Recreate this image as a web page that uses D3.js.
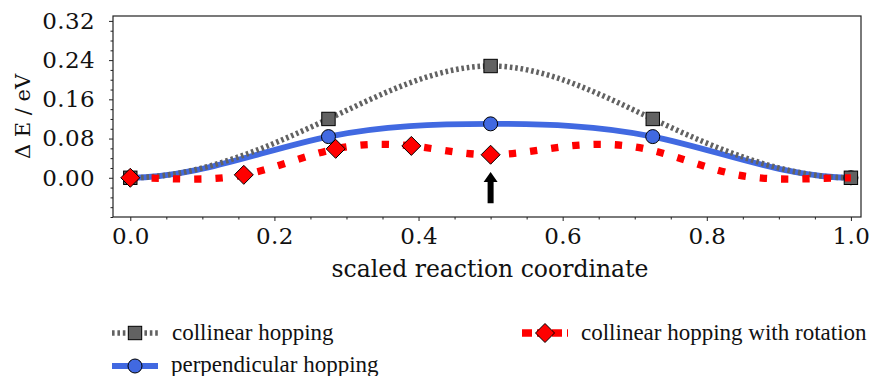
<!DOCTYPE html>
<html>
<head>
<meta charset="utf-8">
<script src="https://cdn.jsdelivr.net/npm/d3@7"></script>
<style>
  html, body { margin: 0; padding: 0; background: #fff; }
  svg { display: block; }
</style>
</head>
<body>
<svg id="chart" width="871" height="376"></svg>
<script>
// Energy profiles along the hopping path (eV)
const collinearX = [0.0, 0.275, 0.5, 0.725, 1.0];
const collinearE = [0.0, 0.120, 0.228, 0.120, 0.0];

const perpendicularX = [0.0, 0.275, 0.5, 0.725, 1.0];
const perpendicularE = [0.0, 0.084, 0.110, 0.084, 0.0];

const rotationX = [0.0, 0.1575, 0.285, 0.39, 0.5, 0.61, 0.715, 0.8425, 1.0];
const rotationE = [0.0, 0.006, 0.059, 0.065, 0.047, 0.065, 0.059, 0.006, 0.0];
const rotationMarkerCount = 5;   // computed images shown with markers

const xTickValues = [0.0, 0.2, 0.4, 0.6, 0.8, 1.0];
const yTickValues = [0.00, 0.08, 0.16, 0.24, 0.32];

// arrow marking the transition state of the rotation path
const arrowX = 0.5;
const arrowTipE = 0.012;
const arrowTailE = -0.052;

const legendLabels = ["collinear hopping", "perpendicular hopping", "collinear hopping with rotation"];

// ---- layout ----
const svg = d3.select("#chart");
const plot = { left: 113, right: 861, top: 16, bottom: 217 };

const x = d3.scaleLinear().domain([-0.024, 1.014]).range([plot.left, plot.right]);
const y = d3.scaleLinear().domain([-0.08, 0.33]).range([plot.bottom, plot.top]);

const tickFont = "'DejaVu Serif', serif";
const legendFont = "'Liberation Serif', 'Times New Roman', serif";

const gray = "#626262", blue = "#4169e1", red = "#ff0000";

// cubic spline with zero end slopes, emitted as Bezier segments
function ClampedSpline(context) { this._context = context; }
ClampedSpline.prototype = {
  areaStart() { this._line = 0; },
  areaEnd() { this._line = NaN; },
  lineStart() { this._xs = []; this._ys = []; },
  point(px, py) { this._xs.push(+px); this._ys.push(+py); },
  lineEnd() {
    const X = this._xs, Y = this._ys, n = X.length, ctx = this._context;
    if (!n) return;
    ctx.moveTo(X[0], Y[0]);
    if (n === 1) return;
    const h = [];
    for (let i = 0; i < n - 1; i++) h.push(X[i + 1] - X[i]);
    // tridiagonal system for second derivatives M
    const a = new Array(n).fill(0), b = new Array(n).fill(0), c = new Array(n).fill(0), r = new Array(n).fill(0);
    b[0] = 2 * h[0]; c[0] = h[0]; r[0] = 6 * ((Y[1] - Y[0]) / h[0] - 0);
    for (let i = 1; i < n - 1; i++) {
      a[i] = h[i - 1]; b[i] = 2 * (h[i - 1] + h[i]); c[i] = h[i];
      r[i] = 6 * ((Y[i + 1] - Y[i]) / h[i] - (Y[i] - Y[i - 1]) / h[i - 1]);
    }
    a[n - 1] = h[n - 2]; b[n - 1] = 2 * h[n - 2];
    r[n - 1] = 6 * (0 - (Y[n - 1] - Y[n - 2]) / h[n - 2]);
    for (let i = 1; i < n; i++) {
      const w = a[i] / b[i - 1];
      b[i] -= w * c[i - 1]; r[i] -= w * r[i - 1];
    }
    const M = new Array(n);
    M[n - 1] = r[n - 1] / b[n - 1];
    for (let i = n - 2; i >= 0; i--) M[i] = (r[i] - c[i] * M[i + 1]) / b[i];
    const m = new Array(n);
    for (let i = 0; i < n - 1; i++) m[i] = (Y[i + 1] - Y[i]) / h[i] - h[i] * (2 * M[i] + M[i + 1]) / 6;
    m[n - 1] = 0;
    for (let i = 0; i < n - 1; i++) {
      const d = h[i] / 3;
      ctx.bezierCurveTo(X[i] + d, Y[i] + m[i] * d, X[i + 1] - d, Y[i + 1] - m[i + 1] * d, X[i + 1], Y[i + 1]);
    }
  }
};
const curveClamped = ctx => new ClampedSpline(ctx);

const line = d3.line().x(d => x(d[0])).y(d => y(d[1])).curve(curveClamped);

const collinearPts = collinearX.map((v, i) => [v, collinearE[i]]);
const perpendicularPts = perpendicularX.map((v, i) => [v, perpendicularE[i]]);
const rotationPts = rotationX.map((v, i) => [v, rotationE[i]]);

// ---- axes ----
const xMinor = d3.range(0, 21).map(i => i * 0.05).filter(v => !xTickValues.some(t => Math.abs(t - v) < 1e-9));
const yMinor = d3.range(-4, 17).map(i => i * 0.02).filter(v => !yTickValues.some(t => Math.abs(t - v) < 1e-9));

const xAxis = svg.append("g").attr("transform", `translate(0,${plot.bottom})`)
  .call(d3.axisBottom(x).tickValues(xTickValues).tickFormat(d3.format(".1f")).tickSize(4).tickPadding(7));
const xAxisMinor = svg.append("g").attr("transform", `translate(0,${plot.bottom})`)
  .call(d3.axisBottom(x).tickValues(xMinor).tickFormat("").tickSize(2.5));
const yAxis = svg.append("g").attr("transform", `translate(${plot.left},0)`)
  .call(d3.axisLeft(y).tickValues(yTickValues).tickFormat(d3.format(".2f")).tickSize(4).tickPadding(14));
const yAxisMinor = svg.append("g").attr("transform", `translate(${plot.left},0)`)
  .call(d3.axisLeft(y).tickValues(yMinor).tickFormat("").tickSize(2.5));

[xAxis, xAxisMinor, yAxis, yAxisMinor].forEach(g => {
  g.select(".domain").remove();
  g.selectAll("line").attr("stroke", "#222").attr("stroke-width", 1);
  g.selectAll("text").attr("font-family", tickFont).attr("font-size", 23).attr("fill", "#111")
    .attr("letter-spacing", 0.4);
});

// frame
svg.append("rect")
  .attr("x", plot.left).attr("y", plot.top)
  .attr("width", plot.right - plot.left).attr("height", plot.bottom - plot.top)
  .attr("fill", "none").attr("stroke", "#222").attr("stroke-width", 1.2);

svg.append("text")
  .attr("x", (plot.left + plot.right) / 2 + 3).attr("y", 277)
  .attr("text-anchor", "middle")
  .attr("font-family", tickFont).attr("font-size", 23.5).attr("fill", "#111")
  .text("scaled reaction coordinate");

svg.append("text")
  .attr("transform", `translate(30,${(plot.top + plot.bottom) / 2}) rotate(-90)`)
  .attr("text-anchor", "middle")
  .attr("font-family", tickFont).attr("font-size", 21).attr("fill", "#111")
  .text("Δ E / eV");

// ---- series ----
const g = svg.append("g");

g.append("path").datum(perpendicularPts).attr("d", line)
  .attr("fill", "none").attr("stroke", blue).attr("stroke-width", 5.8);

g.append("path").datum(collinearPts).attr("d", line)
  .attr("fill", "none").attr("stroke", gray).attr("stroke-width", 5.5)
  .attr("stroke-dasharray", "2.6,2.8");

g.selectAll(".circ").data(perpendicularPts).join("circle")
  .attr("cx", d => x(d[0])).attr("cy", d => y(d[1])).attr("r", 7)
  .attr("fill", blue).attr("stroke", "#000").attr("stroke-width", 1);

g.selectAll(".sq").data(collinearPts).join("rect")
  .attr("x", d => x(d[0]) - 6.7).attr("y", d => y(d[1]) - 6.7)
  .attr("width", 13.4).attr("height", 13.4)
  .attr("fill", gray).attr("stroke", "#000").attr("stroke-width", 1);

g.append("path").datum(rotationPts).attr("d", line)
  .attr("fill", "none").attr("stroke", red).attr("stroke-width", 7.3)
  .attr("stroke-dasharray", "7.3,14");

const diamond = (cx, cy, s) => `M${cx},${cy - s}L${cx + s},${cy}L${cx},${cy + s}L${cx - s},${cy}Z`;
g.selectAll(".dia").data(rotationPts.slice(0, rotationMarkerCount)).join("path")
  .attr("d", d => diamond(x(d[0]), y(d[1]), 9.5))
  .attr("fill", red).attr("stroke", "#000").attr("stroke-width", 1);

// arrow
const ax = x(arrowX), tipY = y(arrowTipE), tailY = y(arrowTailE);
const headLen = 10, headHalf = 7, shaftHalf = 3;
svg.append("path")
  .attr("d", `M${ax},${tipY}L${ax + headHalf},${tipY + headLen}L${ax + shaftHalf},${tipY + headLen}` +
             `L${ax + shaftHalf},${tailY}L${ax - shaftHalf},${tailY}L${ax - shaftHalf},${tipY + headLen}` +
             `L${ax - headHalf},${tipY + headLen}Z`)
  .attr("fill", "#000");

// ---- legend ----
const legend = svg.append("g");
const items = [
  { label: legendLabels[0], x0: 112, y0: 333, tx: 172, ty: 340 },
  { label: legendLabels[1], x0: 112, y0: 366, tx: 171, ty: 372 },
  { label: legendLabels[2], x0: 522, y0: 333, tx: 581, ty: 340 }
];
const hw = 46;

// collinear
legend.append("line").attr("x1", items[0].x0).attr("x2", items[0].x0 + hw)
  .attr("y1", items[0].y0).attr("y2", items[0].y0)
  .attr("stroke", gray).attr("stroke-width", 5.5).attr("stroke-dasharray", "2.6,2.8");
legend.append("rect").attr("x", items[0].x0 + hw / 2 - 6.7).attr("y", items[0].y0 - 6.7)
  .attr("width", 13.4).attr("height", 13.4).attr("fill", gray).attr("stroke", "#000");

// perpendicular
legend.append("line").attr("x1", items[1].x0).attr("x2", items[1].x0 + hw)
  .attr("y1", items[1].y0).attr("y2", items[1].y0)
  .attr("stroke", blue).attr("stroke-width", 5.8);
legend.append("circle").attr("cx", items[1].x0 + hw / 2).attr("cy", items[1].y0).attr("r", 7)
  .attr("fill", blue).attr("stroke", "#000");

// rotation
legend.append("line").attr("x1", items[2].x0).attr("x2", items[2].x0 + hw)
  .attr("y1", items[2].y0).attr("y2", items[2].y0)
  .attr("stroke", red).attr("stroke-width", 7.3).attr("stroke-dasharray", "10,5");
legend.append("path").attr("d", diamond(items[2].x0 + hw / 2, items[2].y0, 9.5))
  .attr("fill", red).attr("stroke", "#000");

legend.selectAll("text").data(items).join("text")
  .attr("x", d => d.tx).attr("y", d => d.ty)
  .attr("font-family", legendFont).attr("font-size", 23).attr("fill", "#111")
  .text(d => d.label);
</script>
</body>
</html>
